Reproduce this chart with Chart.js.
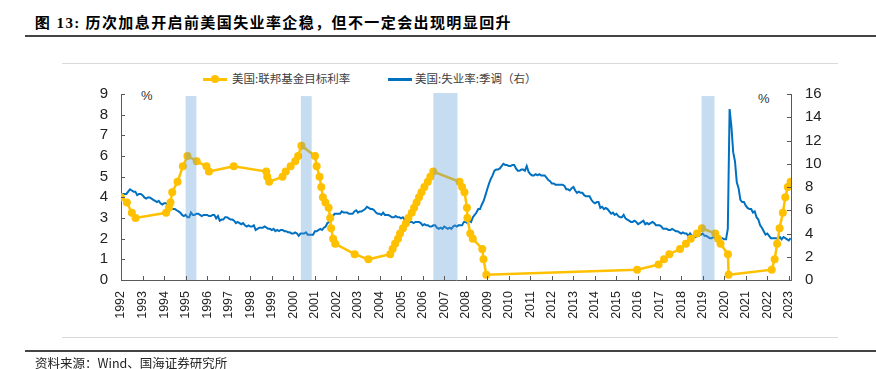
<!DOCTYPE html>
<html>
<head>
<meta charset="utf-8">
<script src="https://cdn.jsdelivr.net/npm/chart.js@4"></script>
<style>
  html, body { margin: 0; padding: 0; background: #fff; }
  body { width: 876px; height: 369px; position: relative; overflow: hidden; font-family: "Noto Sans CJK SC", sans-serif; }
  #c { position: absolute; left: 0; top: 0; }
  .abs { position: absolute; white-space: nowrap; }
  .rule { position: absolute; }
  .title { left: 35px; top: 11px; font-size: 15px; font-weight: bold; color: #000; letter-spacing: 1.4px; }
  .title b { font-family: "Liberation Serif", serif; }
  .lg { top: 70px; font-size: 11.5px; color: #404040; }
  .pct { font-family: "Liberation Sans", Arial, sans-serif; font-size: 13px; color: #333; }
  .src { left: 35px; top: 353px; font-size: 12.5px; color: #222; }
</style>
</head>
<body>
<div class="abs title"><b>图 13:</b>&nbsp;历次加息开启前美国失业率企稳，但不一定会出现明显回升</div>
<div class="rule" style="left:25px; top:35px; width:851px; height:1.5px; background:#444"></div>
<div class="rule" style="left:62px; top:63px; width:776px; height:1px; background:#d9d9d9"></div>

<!-- legend -->
<div class="rule" style="left:203px; top:78px; width:24px; height:2.5px; background:#ffc000"></div>
<div class="rule" style="left:211px; top:75px; width:8px; height:8px; border-radius:50%; background:#ffc000"></div>
<div class="abs lg" style="left:232px">美国:联邦基金目标利率</div>
<div class="rule" style="left:388px; top:78px; width:24px; height:2.5px; background:#0070c0"></div>
<div class="abs lg" style="left:415px">美国:失业率:季调（右）</div>

<div class="abs pct" style="left:141px; top:88px">%</div>
<div class="abs pct" style="left:758px; top:91px">%</div>

<canvas id="c" width="876" height="369"></canvas>

<div class="rule" style="left:62px; top:337px; width:776px; height:1px; background:#d9d9d9"></div>
<div class="rule" style="left:25px; top:350px; width:851px; height:1.5px; background:#444"></div>
<div class="abs src">资料来源：Wind、国海证券研究所</div>

<script>
// x-axis tick labels (years)
const tickYears = [1992,1993,1994,1995,1996,1997,1998,1999,2000,2001,2002,2003,2004,2005,2006,2007,
  2008,2009,2010,2011,2012,2013,2014,2015,2016,2017,2018,2019,2020,2021,2022,2023]

// Fed funds target rate: change dates and levels (%)
const fedDates = [
  '1992-01-01','1992-04-09','1992-07-02','1992-09-04',
  '1994-02-04','1994-03-22','1994-04-18','1994-05-17','1994-08-16','1994-11-15',
  '1995-02-01','1995-07-06','1995-12-19','1996-01-31','1997-03-25',
  '1998-09-29','1998-10-15','1998-11-17','1999-06-30','1999-08-24','1999-11-16',
  '2000-02-02','2000-03-21','2000-05-16',
  '2001-01-03','2001-01-31','2001-03-20','2001-04-18','2001-05-15','2001-06-27',
  '2001-08-21','2001-09-17','2001-10-02','2001-11-06','2001-12-11',
  '2002-11-06','2003-06-25',
  '2004-06-30','2004-08-10','2004-09-21','2004-11-10','2004-12-14',
  '2005-02-02','2005-03-22','2005-05-03','2005-06-30','2005-08-09','2005-09-20','2005-11-01','2005-12-13',
  '2006-01-31','2006-03-28','2006-05-10','2006-06-29',
  '2007-09-18','2007-10-31','2007-12-11',
  '2008-01-22','2008-01-30','2008-03-18','2008-04-30','2008-10-08','2008-10-29','2008-12-16',
  '2015-12-16','2016-12-14','2017-03-15','2017-06-14','2017-12-13',
  '2018-03-21','2018-06-13','2018-09-26','2018-12-19',
  '2019-07-31','2019-09-18','2019-10-30','2020-03-03','2020-03-15',
  '2022-03-16','2022-05-04','2022-06-15','2022-07-27','2022-09-21','2022-11-02','2022-12-14','2023-02-01'
]
const fedRates = [
  4.00, 3.75, 3.25, 3.00,
  3.25, 3.50, 3.75, 4.25, 4.75, 5.50,
  6.00, 5.75, 5.50, 5.25, 5.50,
  5.25, 5.00, 4.75, 5.00, 5.25, 5.50,
  5.75, 6.00, 6.50,
  6.00, 5.50, 5.00, 4.50, 4.00, 3.75,
  3.50, 3.00, 2.50, 2.00, 1.75,
  1.25, 1.00,
  1.25, 1.50, 1.75, 2.00, 2.25,
  2.50, 2.75, 3.00, 3.25, 3.50, 3.75, 4.00, 4.25,
  4.50, 4.75, 5.00, 5.25,
  4.75, 4.50, 4.25,
  3.50, 3.00, 2.25, 2.00, 1.50, 1.00, 0.25,
  0.50, 0.75, 1.00, 1.25, 1.50,
  1.75, 2.00, 2.25, 2.50,
  2.25, 2.00, 1.75, 1.25, 0.25,
  0.50, 1.00, 1.75, 2.50, 3.25, 4.00, 4.50, 4.75
]

// Unemployment rate, seasonally adjusted (%), monthly, one row per year
const unempYears = tickYears
const unempRates = [
  [7.3,7.4,7.4,7.4,7.6,7.8,7.7,7.6,7.6,7.3,7.4,7.4],
  [7.3,7.1,7.0,7.1,7.1,7.0,6.9,6.8,6.7,6.8,6.6,6.5],
  [6.6,6.6,6.5,6.4,6.1,6.1,6.1,6.0,5.9,5.8,5.6,5.5],
  [5.6,5.4,5.4,5.8,5.6,5.6,5.7,5.7,5.6,5.5,5.6,5.6],
  [5.6,5.5,5.5,5.6,5.6,5.3,5.5,5.1,5.2,5.2,5.4,5.4],
  [5.3,5.2,5.2,5.1,4.9,5.0,4.9,4.8,4.9,4.7,4.6,4.7],
  [4.6,4.6,4.7,4.3,4.4,4.5,4.5,4.5,4.6,4.5,4.4,4.4],
  [4.3,4.4,4.2,4.3,4.2,4.3,4.3,4.2,4.2,4.1,4.1,4.0],
  [4.0,4.1,4.0,3.8,4.0,4.0,4.0,4.1,3.9,3.9,3.9,3.9],
  [4.2,4.2,4.3,4.4,4.3,4.5,4.6,4.9,5.0,5.3,5.5,5.7],
  [5.7,5.7,5.7,5.9,5.8,5.8,5.8,5.7,5.7,5.7,5.9,6.0],
  [5.8,5.9,5.9,6.0,6.1,6.3,6.2,6.1,6.1,6.0,5.8,5.7],
  [5.7,5.6,5.8,5.6,5.6,5.6,5.5,5.4,5.4,5.5,5.4,5.4],
  [5.3,5.4,5.2,5.2,5.1,5.0,5.0,4.9,5.0,5.0,5.0,4.9],
  [4.7,4.8,4.7,4.7,4.6,4.6,4.7,4.7,4.5,4.4,4.5,4.4],
  [4.6,4.5,4.4,4.5,4.4,4.6,4.7,4.6,4.7,4.7,4.7,5.0],
  [5.0,4.9,5.1,5.0,5.4,5.6,5.8,6.1,6.1,6.5,6.8,7.3],
  [7.8,8.3,8.7,9.0,9.4,9.5,9.5,9.6,9.8,10.0,9.9,9.9],
  [9.8,9.8,9.9,9.9,9.6,9.4,9.4,9.5,9.5,9.4,9.8,9.3],
  [9.1,9.0,9.0,9.1,9.0,9.1,9.0,9.0,9.0,8.8,8.6,8.5],
  [8.3,8.3,8.2,8.2,8.2,8.2,8.2,8.1,7.8,7.8,7.7,7.9],
  [8.0,7.7,7.5,7.6,7.5,7.5,7.3,7.2,7.2,7.2,6.9,6.7],
  [6.6,6.7,6.7,6.2,6.3,6.1,6.2,6.1,5.9,5.7,5.8,5.6],
  [5.7,5.5,5.4,5.4,5.6,5.3,5.2,5.1,5.0,5.0,5.1,5.0],
  [4.8,4.9,5.0,5.1,4.8,4.9,4.8,4.9,5.0,4.9,4.7,4.7],
  [4.7,4.6,4.4,4.4,4.4,4.3,4.3,4.4,4.3,4.2,4.2,4.1],
  [4.0,4.1,4.0,4.0,3.8,4.0,3.8,3.8,3.7,3.8,3.8,3.9],
  [4.0,3.8,3.8,3.7,3.6,3.6,3.7,3.6,3.5,3.6,3.6,3.6],
  [3.5,3.5,4.4,14.7,13.2,11.0,10.2,8.4,7.9,6.9,6.7,6.7],
  [6.4,6.2,6.1,6.1,5.8,5.9,5.4,5.2,4.7,4.5,4.2,3.9],
  [4.0,3.8,3.6,3.6,3.6,3.6,3.5,3.7,3.5,3.7,3.6,3.5],
  [3.4,3.6]
]

// shaded periods (start year, end year, top on left axis)
const bandStarts = [1995.0, 2000.35, 2006.5, 2018.95]
const bandEnds   = [1995.5, 2000.85, 2007.62, 2019.55]
const bandTops   = [8.9, 8.9, 9.05, 8.9]

function toYear (s) {
  const [y, m, d] = s.split('-').map(Number)
  return y + (m - 1) / 12 + (d - 1) / 365
}

const fedPoints = fedDates.map((d, i) => ({ x: toYear(d), y: fedRates[i] }))
const unempPoints = []
unempYears.forEach((yr, i) => {
  unempRates[i].forEach((v, m) => unempPoints.push({ x: yr + m / 12, y: v }))
})

const axisColor = '#595959'
const tickFont = { family: '"Liberation Sans", Arial, sans-serif', size: 15 }

const decor = {
  id: 'decor',
  afterDatasetsDraw (chart) {
    const { ctx, chartArea: { left, right, bottom } } = chart
    const x = chart.scales.x, y = chart.scales.y, y1 = chart.scales.y1
    ctx.save()
    // shaded periods, drawn over the lines semi-transparently
    ctx.fillStyle = 'rgba(91,155,213,0.35)'
    bandStarts.forEach((s, i) => {
      const x1 = x.getPixelForValue(s), x2 = x.getPixelForValue(bandEnds[i])
      const t = y.getPixelForValue(bandTops[i])
      ctx.fillRect(x1, t, x2 - x1, bottom - t)
    })
    // inward tick marks
    ctx.strokeStyle = axisColor
    ctx.lineWidth = 1
    ctx.beginPath()
    x.ticks.forEach(t => {
      const px = Math.round(x.getPixelForValue(t.value)) + 0.5
      ctx.moveTo(px, bottom); ctx.lineTo(px, bottom - 4)
    })
    y.ticks.forEach(t => {
      const py = Math.round(y.getPixelForValue(t.value)) + 0.5
      ctx.moveTo(left, py); ctx.lineTo(left + 4, py)
    })
    y1.ticks.forEach(t => {
      const py = Math.round(y1.getPixelForValue(t.value)) + 0.5
      ctx.moveTo(right, py); ctx.lineTo(right - 4, py)
    })
    ctx.stroke()
    ctx.restore()
  }
}

new Chart(document.getElementById('c'), {
  type: 'line',
  data: {
    datasets: [
      {
        label: '美国:联邦基金目标利率',
        data: fedPoints,
        yAxisID: 'y',
        borderColor: '#ffc000',
        backgroundColor: '#ffc000',
        borderWidth: 2.5,
        pointRadius: 4,
        pointBorderWidth: 0,
        pointBackgroundColor: '#ffc000',
        tension: 0,
        order: 1
      },
      {
        label: '美国:失业率:季调（右）',
        data: unempPoints,
        yAxisID: 'y1',
        borderColor: '#0070c0',
        borderWidth: 2,
        pointRadius: 0,
        tension: 0,
        order: 2
      }
    ]
  },
  options: {
    responsive: false,
    animation: false,
    layout: { padding: { top: 94, left: 0, right: 0, bottom: 0 } },
    plugins: { legend: { display: false }, tooltip: { enabled: false } },
    scales: {
      x: {
        type: 'linear',
        min: 1992,
        max: 2023.1,
        grid: { display: false, drawTicks: false },
        border: { display: true, color: axisColor, width: 1 },
        afterBuildTicks: s => { s.ticks = tickYears.map(v => ({ value: v })) },
        afterFit: s => { s.height = 89 },
        ticks: {
          autoSkip: false,
          minRotation: 90,
          maxRotation: 90,
          padding: 11,
          color: '#222',
          font: { family: '"Liberation Sans", Arial, sans-serif', size: 12.5 },
          callback: v => String(v)
        }
      },
      y: {
        position: 'left',
        min: 0,
        max: 9,
        grid: { display: false, drawTicks: false },
        border: { display: true, color: axisColor, width: 1 },
        afterFit: s => { s.width = 121 },
        ticks: { stepSize: 1, autoSkip: false, padding: 13, color: '#222', font: tickFont }
      },
      y1: {
        position: 'right',
        min: 0,
        max: 16,
        grid: { display: false, drawTicks: false },
        border: { display: true, color: axisColor, width: 1 },
        afterFit: s => { s.width = 85 },
        ticks: { stepSize: 2, autoSkip: false, padding: 14, color: '#222', font: tickFont }
      }
    }
  },
  plugins: [decor]
})
</script>
</body>
</html>
